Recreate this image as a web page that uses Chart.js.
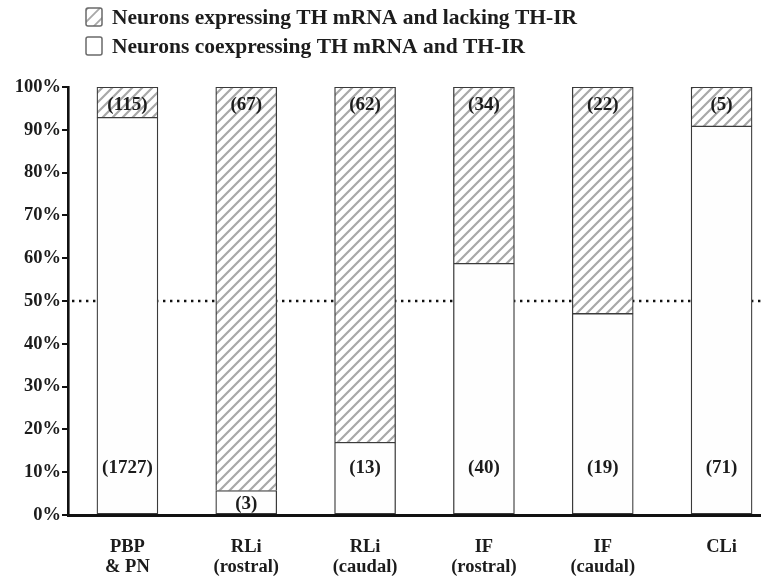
<!DOCTYPE html>
<html>
<head>
<meta charset="utf-8">
<script src="https://cdn.jsdelivr.net/npm/chart.js@4.4.1/dist/chart.umd.min.js"></script>
<style>
  html, body { margin: 0; padding: 0; background: #fff; overflow: hidden; }
  #wrap { width: 781px; height: 579px; }
</style>
</head>
<body>
<div id="wrap"><canvas id="chart" width="781" height="579"></canvas></div>
<script>
// Regions along the x axis (multi-line labels)
const regions = [['PBP', '& PN'], ['RLi', '(rostral)'], ['RLi', '(caudal)'], ['IF', '(rostral)'], ['IF', '(caudal)'], ['CLi']];

// Percentage of TH mRNA neurons in each group
const coexpressPct = [92.9, 5.7, 17.0, 58.8, 47.1, 90.9];
const lackingPct   = [7.1, 94.3, 83.0, 41.2, 52.9, 9.1];

// Neuron counts printed on the segments
const coexpressCounts = [1727, 3, 13, 40, 19, 71];
const lackingCounts   = [115, 67, 62, 34, 22, 5];

// Y axis ticks (percent)
const yTicks = [0, 10, 20, 30, 40, 50, 60, 70, 80, 90, 100];

// Dotted reference level
const referenceLevel = 50;

const seriesNames = ['Neurons expressing TH mRNA and lacking TH-IR', 'Neurons coexpressing TH mRNA and TH-IR'];

const FONT = "'Liberation Serif', 'Times New Roman', serif";
const INK = '#1c1c1c';
const EDGE = '#3a3a3a';

// Diagonal "/" hatch tile
function makeHatch(w, h, color, lw) {
  const c = document.createElement('canvas');
  c.width = w; c.height = h;
  const g = c.getContext('2d');
  g.fillStyle = '#ffffff';
  g.fillRect(0, 0, w, h);
  g.strokeStyle = color;
  g.lineWidth = lw;
  g.beginPath();
  g.moveTo(-w, 2 * h); g.lineTo(2 * w, -h);
  g.moveTo(-w, h); g.lineTo(w, -h);
  g.moveTo(0, 2 * h); g.lineTo(2 * w, 0);
  g.stroke();
  return g.createPattern(c, 'repeat');
}

const ctx0 = document.getElementById('chart').getContext('2d');
const hatch = makeHatch(10, 10, '#a8a8a8', 2.2);

// Dotted 50% line, drawn underneath the bars
const referenceLine = {
  id: 'referenceLine',
  beforeDatasetsDraw(chart) {
    const { ctx, chartArea, scales } = chart;
    const y = scales.y.getPixelForValue(referenceLevel);
    ctx.save();
    ctx.strokeStyle = '#111';
    ctx.lineWidth = 2.6;
    ctx.setLineDash([2.4, 4.6]);
    ctx.beginPath();
    ctx.moveTo(chartArea.left + 4, y);
    ctx.lineTo(chart.width, y);
    ctx.stroke();
    ctx.restore();
  }
};

// Count labels on the segments
const countLabels = {
  id: 'countLabels',
  afterDatasetsDraw(chart) {
    const { ctx, scales } = chart;
    const y = scales.y;
    ctx.save();
    ctx.font = 'bold 19px ' + FONT;
    ctx.fillStyle = INK;
    ctx.textAlign = 'center';
    ctx.textBaseline = 'middle';
    chart.getDatasetMeta(0).data.forEach((bar, i) => {
      const v = coexpressPct[i];
      const level = v < 15 ? v / 2 : 11.2;
      ctx.fillText('(' + coexpressCounts[i] + ')', bar.x, y.getPixelForValue(level) + 1);
    });
    chart.getDatasetMeta(1).data.forEach((bar, i) => {
      ctx.fillText('(' + lackingCounts[i] + ')', bar.x, y.getPixelForValue(96.1) + 1);
    });
    ctx.restore();
  }
};

// Legend at the top of the figure
const topLegend = {
  id: 'topLegend',
  afterDraw(chart) {
    const { ctx } = chart;
    const rows = [
      { y: 17, fill: makeHatch(12, 12, '#a8a8a8', 1.8), text: seriesNames[0] },
      { y: 46, fill: '#ffffff', text: seriesNames[1] }
    ];
    ctx.save();
    rows.forEach(r => {
      const bx = 86, bw = 16, bh = 18, by = r.y - bh / 2;
      ctx.beginPath();
      ctx.roundRect(bx, by, bw, bh, 2);
      ctx.fillStyle = r.fill;
      ctx.fill();
      ctx.strokeStyle = '#6a6a6a';
      ctx.lineWidth = 1.5;
      ctx.stroke();
      ctx.font = 'bold 21.5px ' + FONT;
      ctx.fillStyle = INK;
      ctx.textAlign = 'left';
      ctx.textBaseline = 'middle';
      ctx.fillText(r.text, 112, r.y + 1);
    });
    ctx.restore();
  }
};

new Chart(ctx0, {
  type: 'bar',
  data: {
    labels: regions,
    datasets: [
      {
        label: seriesNames[1],
        data: coexpressPct,
        backgroundColor: '#fefefe',
        borderColor: EDGE,
        borderWidth: 1.3,
        borderSkipped: false,
        barThickness: 61,
        stack: 'all'
      },
      {
        label: seriesNames[0],
        data: lackingPct,
        backgroundColor: hatch,
        borderColor: EDGE,
        borderWidth: { top: 1.3, left: 1.3, right: 1.3, bottom: 0 },
        borderSkipped: false,
        barThickness: 61,
        stack: 'all'
      }
    ]
  },
  options: {
    responsive: false,
    animation: false,
    devicePixelRatio: 1,
    layout: { padding: { top: 87, left: 0, right: 0, bottom: 0 } },
    plugins: {
      legend: { display: false },
      tooltip: { enabled: false }
    },
    scales: {
      x: {
        stacked: true,
        offset: true,
        grid: { display: true, drawOnChartArea: false, drawTicks: false },
        border: { display: true, color: '#111', width: 3 },
        ticks: {
          color: INK,
          font: { family: FONT, size: 18.5, weight: 'bold', lineHeight: 1.05 },
          padding: 23,
          maxRotation: 0,
          autoSkip: false
        },
        afterFit(scale) { scale.height = 64; }
      },
      y: {
        stacked: true,
        min: 0,
        max: 100,
        afterBuildTicks(scale) { scale.ticks = yTicks.map(v => ({ value: v })); },
        grid: { display: true, drawOnChartArea: false, drawTicks: true, tickLength: 6, color: '#111', lineWidth: 2 },
        border: { display: true, color: '#111', width: 2.6 },
        ticks: {
          color: INK,
          font: { family: FONT, size: 18.5, weight: 'bold' },
          padding: 1,
          callback: v => v + '%'
        },
        afterFit(scale) { scale.width = 68; }
      }
    }
  },
  plugins: [referenceLine, countLabels, topLegend]
});
</script>
</body>
</html>
